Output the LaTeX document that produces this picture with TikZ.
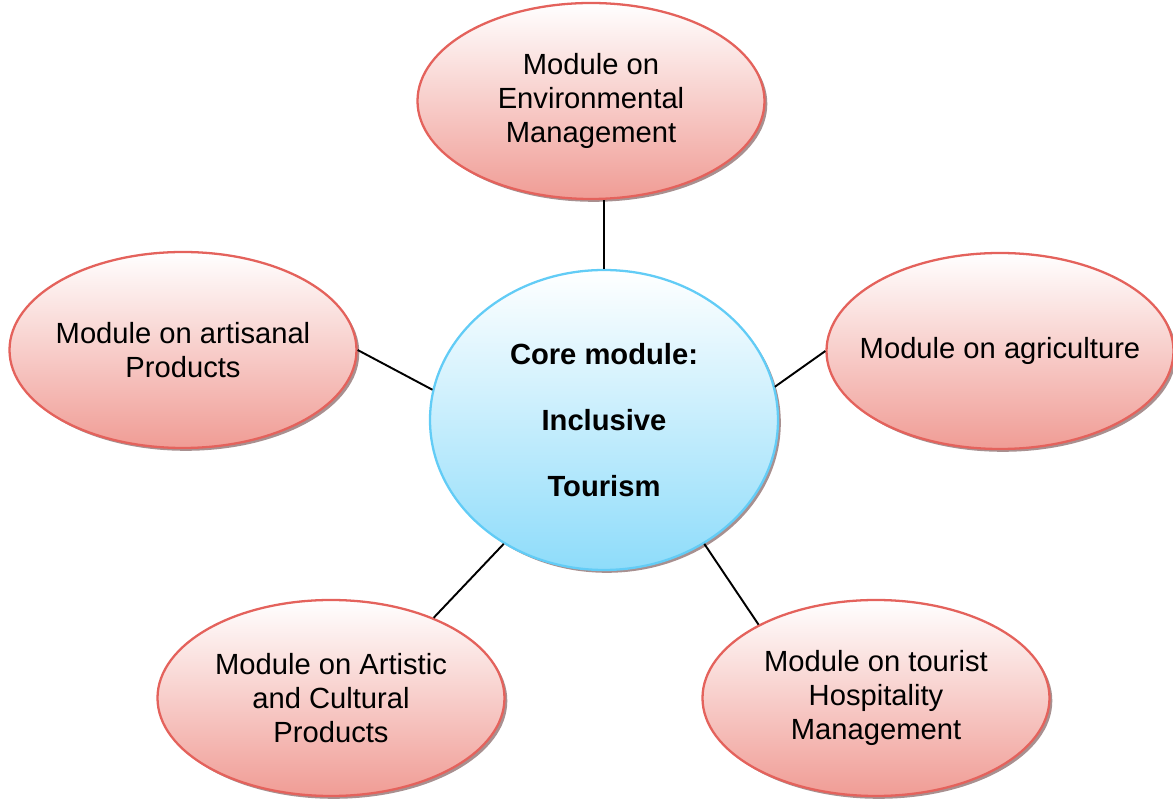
\documentclass[tikz,border=0pt]{standalone}
\usepackage{fontspec}
\setmainfont{Liberation Sans}
\usetikzlibrary{shapes.geometric, shadows}

\definecolor{modline}{HTML}{E4625C}
\definecolor{modfill}{HTML}{F09C95}
\definecolor{coreline}{HTML}{62CCF6}
\definecolor{corefill}{HTML}{8EDCFA}
\definecolor{shadegrey}{HTML}{A89090}

\tikzset{
  module/.style={ellipse, draw=modline, line width=1.3pt, top color=white,
    bottom color=modfill, minimum width=6.94cm, minimum height=3.92cm,
    inner xsep=-1cm, inner ysep=0pt, align=center,
    font=\fontsize{16.6}{19.4}\selectfont,
    drop shadow={shadow xshift=1.6pt, shadow yshift=-1.6pt, fill=shadegrey, opacity=1}},
  coremod/.style={module, draw=coreline, bottom color=corefill,
    minimum width=6.96cm, minimum height=6cm,
    font=\fontsize{16.6}{19.4}\selectfont\bfseries},
  link/.style={line width=1.1pt}
}

\begin{document}
\begin{tikzpicture}
  \useasboundingbox (0, 0) rectangle (23.46, 16.1);
  % core and the five modules round it
  \node[coremod] (core) at (12.08, 7.70)
    {Core module:\\[18pt] Inclusive\\[18pt] Tourism};
  \node[module] (envmod) at (11.82, 14.08)
    {Module on\\Environmental\\Management};
  \node[module] (artmod) at (3.66, 9.10) {Module on artisanal\\Products};
  \node[module] (agrimod) at (20.0, 9.08) {Module on agriculture};
  \node[module] (culmod) at (6.62, 2.14)
    {Module on Artistic\\and Cultural\\Products};
  \node[module] (hospmod) at (17.52, 2.14)
    {Module on tourist\\Hospitality\\Management};
  % links
  \draw[link] (core.north) -- (core.north |- envmod.south);
  \draw[link] (artmod.east) -- (core.170);
  \draw[link] (agrimod.west) -- (core.11);
  \draw[link] (culmod.38) -- (core.231);
  \draw[link] (hospmod.148) -- (core.309);
\end{tikzpicture}
\end{document}
